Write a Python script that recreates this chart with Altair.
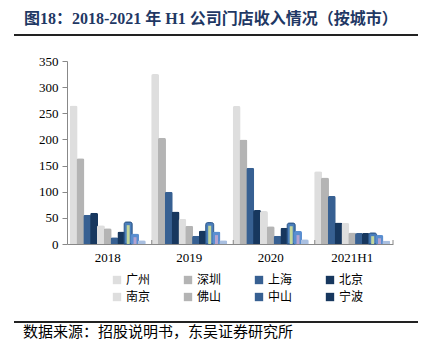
import altair as alt
import pandas as pd

years = ["2018", "2019", "2020", "2021H1"]
series = ["广州", "深圳", "上海", "北京", "南京", "佛山", "中山", "宁波", "其他A", "其他B", "其他C"]
legend_names = ["广州", "深圳", "上海", "北京", "南京", "佛山", "中山", "宁波"]
colors = ["#dedede", "#b4b4b4", "#376092", "#17375e", "#dedede", "#b4b4b4", "#376092", "#17375e",
          "#4a7ebb", "#5a8ed0", "#a9bfe0"]
y_ticks = [0, 50, 100, 150, 200, 250, 300, 350]

values = {
    "广州": [265, 325, 264, 139],
    "深圳": [164, 203, 200, 127],
    "上海": [56, 100, 146, 92],
    "北京": [60, 62, 65, 41],
    "南京": [36, 48, 63, 40],
    "佛山": [30, 35, 34, 22],
    "中山": [13, 16, 16, 21],
    "宁波": [24, 26, 31, 21],
    "其他A": [42, 41, 40, 21],
    "其他B": [20, 24, 25, 17],
    "其他C": [7, 7, 9, 6],
}
# thin bars drawn inside the 其他A / 其他B bars
inner_green = [36, 35, 34, 15]
inner_purple = [13, 17, 17, 11]

rows = []
for s in series:
    for y, v in zip(years, values[s]):
        rows.append({"year": y, "city": s, "value": v})
df = pd.DataFrame(rows)

inner_rows = []
for y, g, p in zip(years, inner_green, inner_purple):
    inner_rows.append({"year": y, "host": "其他A", "value": g, "kind": "g"})
    inner_rows.append({"year": y, "host": "其他B", "value": p, "kind": "p"})
df_inner = pd.DataFrame(inner_rows)

W, H = 326, 183
serif = "Liberation Serif, Noto Sans CJK SC"
cjk = "Noto Sans CJK SC"

xscale = alt.Scale(domain=years, paddingInner=0.08, paddingOuter=0.04)
yscale = alt.Scale(domain=[0, 350])
x_axis = alt.Axis(title=None, labelAngle=0, labelFont=serif, labelFontSize=13,
                  labelColor="#000", domainColor="#888", ticks=False, labelPadding=7)
y_axis = alt.Axis(title=None, values=y_ticks, grid=False, labelOverlap=False,
                  labelFont=serif, labelFontSize=13, labelColor="#000",
                  domainColor="#888", tickColor="#888", tickSize=5, labelPadding=4)

bars = alt.Chart(df).mark_bar(size=8, cornerRadiusTopLeft=2, cornerRadiusTopRight=2).encode(
    x=alt.X("year:N", scale=xscale, sort=years, axis=x_axis),
    xOffset=alt.XOffset("city:N", scale=alt.Scale(domain=series)),
    y=alt.Y("value:Q", scale=yscale, axis=y_axis),
    color=alt.Color("city:N", scale=alt.Scale(domain=series, range=colors),
                    legend=alt.Legend(values=legend_names, title=None, orient="none",
                                      direction="horizontal",
                                      legendX=44, legendY=213, columns=4, columnPadding=31,
                                      rowPadding=5, symbolType="square", symbolSize=70,
                                      symbolStrokeWidth=0, labelFont=cjk, labelFontSize=12,
                                      labelColor="#000", labelOffset=3)),
    stroke=alt.condition(alt.datum.city == "其他A", alt.value("#2f5a8e"), alt.value(None)),
    strokeWidth=alt.value(1),
)

inner = alt.Chart(df_inner).mark_bar(size=3).encode(
    x=alt.X("year:N", scale=xscale, sort=years, axis=x_axis),
    xOffset=alt.XOffset("host:N", scale=alt.Scale(domain=series)),
    y=alt.Y("value:Q", scale=yscale, axis=y_axis),
    color=alt.condition(alt.datum.kind == "g", alt.value("#c4d79b"), alt.value("#b5a3cf")),
)

tick_df = pd.DataFrame({"year": years[1:]})
ticks = alt.Chart(tick_df).mark_rule(color="#888").encode(
    x=alt.X("year:N", scale=xscale, sort=years, bandPosition=0, axis=x_axis),
    y=alt.value(H - 4), y2=alt.value(H),
)
end_tick = alt.Chart(pd.DataFrame({"a": [0]})).mark_rule(color="#888").encode(
    x=alt.value(W), y=alt.value(H - 4), y2=alt.value(H),
)

deco = pd.DataFrame({"a": [0]})
title_txt = alt.Chart(deco).mark_text(align="left", baseline="middle", font=serif, fontSize=16,
                                      fontWeight="bold", color="#1f3864").encode(
    x=alt.value(-43), y=alt.value(-42), text=alt.value("图18：2018-2021 年 H1 公司门店收入情况（按城市）"))
line_top = alt.Chart(deco).mark_rule(color="#222", strokeWidth=2).encode(
    x=alt.value(-53), x2=alt.value(351), y=alt.value(-26))
line_bot = alt.Chart(deco).mark_rule(color="#222", strokeWidth=2).encode(
    x=alt.value(-53), x2=alt.value(351), y=alt.value(261))
source = alt.Chart(deco).mark_text(align="left", baseline="middle", font=cjk, fontSize=15,
                                   color="#000").encode(
    x=alt.value(-44), y=alt.value(271), text=alt.value("数据来源：招股说明书，东吴证券研究所"))

chart = alt.layer(bars, inner, ticks, end_tick, title_txt, line_top, line_bot, source).properties(
    width=W, height=H,
    autosize=alt.AutoSizeParams(type="none"),
    padding={"left": 67, "top": 61, "right": 31, "bottom": 110},
).configure_view(stroke=None)

chart.save("out.html", embed_options={"renderer": "svg", "actions": False})
